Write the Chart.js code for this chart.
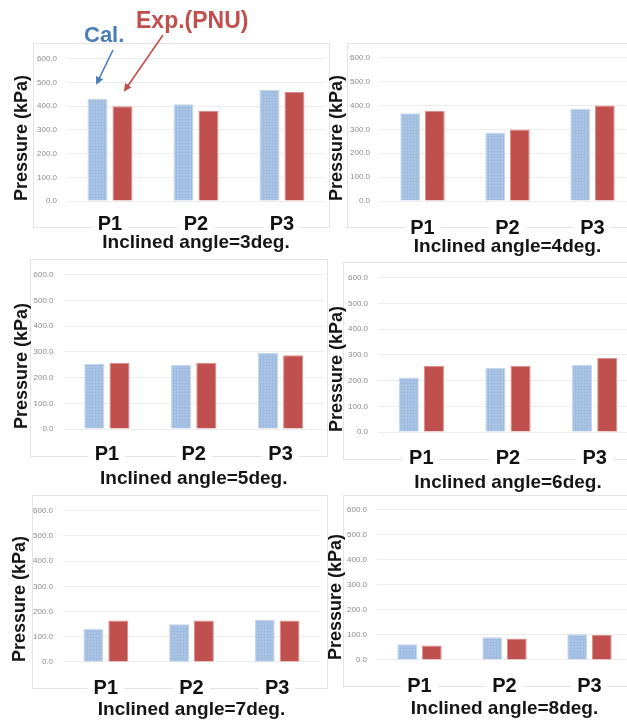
<!DOCTYPE html>
<html>
<head>
<meta charset="utf-8">
<script src="https://cdn.jsdelivr.net/npm/chart.js@4.4.0/dist/chart.umd.min.js"></script>
<style>
  html, body { margin: 0; padding: 0; background: #fff; overflow: hidden; }
  #wrap { position: relative; width: 627px; height: 720px; overflow: hidden; background: #fff; }
  .frame { position: absolute; border: 1px solid #e3e3e3; box-sizing: border-box; }
  canvas { position: absolute; }
  .note { position: absolute; font-family: "Liberation Sans", Arial, sans-serif; font-weight: bold; white-space: nowrap; }
  svg { position: absolute; left: 0; top: 0; }
</style>
</head>
<body>
<div id="wrap"></div>
<script>
// data
let categories = ['P1', 'P2', 'P3'];
let angles = [3, 4, 5, 6, 7, 8];
let calValues = [
  [430, 408, 468],
  [368, 287, 385],
  [253, 250, 297],
  [212, 250, 262],
  [132, 150, 167],
  [63, 91, 103]
];
let expValues = [
  [400, 380, 460],
  [378, 300, 400],
  [258, 258, 287],
  [258, 258, 288],
  [165, 165, 165],
  [58, 86, 100]
];
let yMin = 0, yMax = 600, yStep = 100;

// where each small chart sits on the page
let panels = [
  { l: 67,   r: 325, t: 52,  b: 201, yTitleX: 22,  titleY: 243, tickPad: 3.5, frame: [33, 43, 330, 228] },
  { l: 380,  r: 635, t: 51,  b: 201, yTitleX: 337, titleY: 247, tickPad: 7,   frame: [347, 43, 640, 228] },
  { l: 63.5, r: 324, t: 268, b: 429, yTitleX: 22,  titleY: 479, tickPad: 5.5, frame: [30, 259, 328, 457] },
  { l: 378,  r: 638, t: 271, b: 432, yTitleX: 337, titleY: 483, tickPad: 6,   frame: [343, 262, 640, 460] },
  { l: 63,   r: 320, t: 504, b: 662, yTitleX: 20,  titleY: 710, tickPad: 6,   frame: [32, 495, 328, 689] },
  { l: 377,  r: 632, t: 503, b: 660, yTitleX: 336, titleY: 709, tickPad: 6.5, frame: [343, 495, 640, 687] }
];

let wrap = document.getElementById('wrap');
let font = '"Liberation Sans", Arial, sans-serif';

// light blue bars have a fine grid texture
function calPattern() {
  let c = document.createElement('canvas');
  c.width = 3; c.height = 3;
  let g = c.getContext('2d');
  g.fillStyle = '#abc5e5';
  g.fillRect(0, 0, 3, 3);
  g.fillStyle = '#9fbbe0';
  g.fillRect(0, 0, 3, 1);
  g.fillRect(0, 0, 1, 3);
  return g.createPattern(c, 'repeat');
}
let calFill = calPattern();

function addFrame(f) {
  let d = document.createElement('div');
  d.className = 'frame';
  d.style.left = f[0] + 'px';
  d.style.top = f[1] + 'px';
  d.style.width = (f[2] - f[0]) + 'px';
  d.style.height = (f[3] - f[1]) + 'px';
  wrap.appendChild(d);
}

function makeChart(i) {
  let p = panels[i];
  let left = Math.round(p.yTitleX - 10.8);
  let top = Math.round(p.t - 8);
  let right = Math.round(p.r + 4);
  let bottom = Math.round(p.titleY + 11.4);
  let lift = 10; // title box overlaps the tick label band a bit
  let yW = p.l - left;
  let xH = bottom - (22.8 - lift) - p.b;

  let cv = document.createElement('canvas');
  cv.width = right - left;
  cv.height = bottom - top;
  cv.style.left = left + 'px';
  cv.style.top = top + 'px';
  wrap.appendChild(cv);

  new Chart(cv.getContext('2d'), {
    type: 'bar',
    data: {
      labels: categories,
      datasets: [{
        label: 'Cal.',
        data: calValues[i],
        backgroundColor: calFill,
        borderColor: '#c3d5ec',
        borderWidth: 1
      }, {
        label: 'Exp.(PNU)',
        data: expValues[i],
        backgroundColor: '#c0504d',
        borderColor: '#d98e8c',
        borderWidth: 1
      }]
    },
    options: {
      responsive: false,
      animation: false,
      layout: { padding: { left: 0, top: 8, right: 4, bottom: 0 } },
      categoryPercentage: 0.58,
      barPercentage: 0.8,
      plugins: {
        legend: { display: false },
        tooltip: { enabled: false },
        title: {
          display: true,
          text: 'Inclined angle=' + angles[i] + 'deg.',
          position: 'bottom',
          fullSize: false,
          padding: { top: -lift, bottom: 0 },
          color: '#151515',
          font: { family: font, size: 19, weight: 'bold' }
        }
      },
      scales: {
        x: {
          grid: { display: false },
          border: { display: false },
          afterFit: s => { s.height = xH; },
          ticks: {
            color: '#111',
            padding: p.tickPad,
            font: { family: font, size: 20, weight: 'bold' },
            showLabelBackdrop: true,
            backdropColor: '#fff',
            backdropPadding: { x: 6, y: -5 }
          }
        },
        y: {
          min: yMin,
          max: yMax,
          afterFit: s => { s.width = yW; },
          grid: { color: '#ececec', drawTicks: false },
          border: { display: false },
          ticks: {
            stepSize: yStep,
            padding: 10,
            color: '#8a8a8a',
            font: { family: font, size: 8 },
            callback: v => Number(v).toFixed(1)
          },
          title: {
            display: true,
            text: 'Pressure (kPa)',
            align: 'start',
            padding: 0,
            color: '#151515',
            font: { family: font, size: 18, weight: 'bold' }
          }
        }
      }
    }
  });
}

panels.forEach(p => addFrame(p.frame));
for (let i = 0; i < panels.length; i++) makeChart(i);

// callouts on the first chart
let svgNS = 'http://www.w3.org/2000/svg';
let svg = document.createElementNS(svgNS, 'svg');
svg.setAttribute('width', 627);
svg.setAttribute('height', 720);
svg.innerHTML =
  '<defs>' +
  '<marker id="hb" markerWidth="8" markerHeight="8" refX="6" refY="4" orient="auto" markerUnits="userSpaceOnUse"><path d="M0,0 L8,4 L0,8 z" fill="#4a7ebb"/></marker>' +
  '<marker id="hr" markerWidth="8" markerHeight="8" refX="6" refY="4" orient="auto" markerUnits="userSpaceOnUse"><path d="M0,0 L8,4 L0,8 z" fill="#c0504d"/></marker>' +
  '</defs>' +
  '<line x1="113" y1="50" x2="97" y2="83" stroke="#4a7ebb" stroke-width="1.6" marker-end="url(#hb)"/>' +
  '<line x1="163" y1="35" x2="125" y2="90" stroke="#c0504d" stroke-width="1.6" marker-end="url(#hr)"/>';
wrap.appendChild(svg);

function addNote(text, x, y, size, color) {
  let d = document.createElement('div');
  d.className = 'note';
  d.textContent = text;
  d.style.left = x + 'px';
  d.style.top = y + 'px';
  d.style.fontSize = size + 'px';
  d.style.lineHeight = size + 'px';
  d.style.color = color;
  wrap.appendChild(d);
}
addNote('Cal.', 84, 24, 22, '#4a7ebb');
addNote('Exp.(PNU)', 136, 9, 23, '#c0504d');
</script>
</body>
</html>
